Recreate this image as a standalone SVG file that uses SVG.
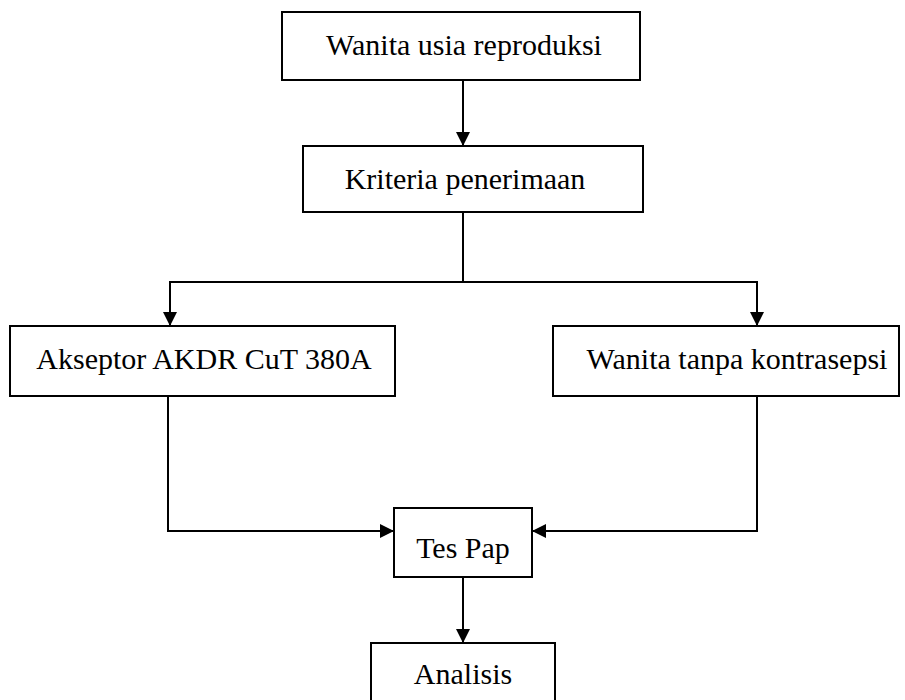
<svg xmlns="http://www.w3.org/2000/svg" width="905" height="700" viewBox="0 0 905 700">
<defs>
<style>
.box{fill:#fff;stroke:#000;stroke-width:2}
.lbl{font-family:"Liberation Serif","Times New Roman",serif;font-size:30px;fill:#000;text-anchor:middle}
.con{fill:none;stroke:#000;stroke-width:2}
</style>
<marker id="ah" viewBox="0 0 14 14" refX="14" refY="7" markerWidth="14" markerHeight="14" markerUnits="userSpaceOnUse" orient="auto">
<path d="M0,0 L14,7 L0,14 Z" fill="#000"/>
</marker>
</defs>
<rect width="905" height="700" fill="#fff"/>
<g id="connectors">
<line class="con" x1="463" y1="80" x2="463" y2="146" marker-end="url(#ah)"/>
<polyline class="con" points="463,212 463,282 170,282 170,326" marker-end="url(#ah)"/>
<polyline class="con" points="463,282 757,282 757,326" marker-end="url(#ah)"/>
<polyline class="con" points="168,396 168,531 394,531" marker-end="url(#ah)"/>
<polyline class="con" points="757,396 757,531 532,531" marker-end="url(#ah)"/>
<line class="con" x1="463" y1="577" x2="463" y2="643" marker-end="url(#ah)"/>
</g>
<g id="n1"><rect class="box" x="282" y="12" width="358" height="68"/><text class="lbl" x="464" y="55">Wanita usia reproduksi</text></g>
<g id="n2"><rect class="box" x="303" y="146" width="340" height="66"/><text class="lbl" x="465" y="189">Kriteria penerimaan</text></g>
<g id="n3"><rect class="box" x="10" y="326" width="385" height="70"/><text class="lbl" x="204" y="369">Akseptor AKDR CuT 380A</text></g>
<g id="n4"><rect class="box" x="553" y="326" width="346" height="70"/><text class="lbl" x="737" y="369">Wanita tanpa kontrasepsi</text></g>
<g id="n5"><rect class="box" x="394" y="508" width="138" height="69"/><text class="lbl" x="463" y="558">Tes Pap</text></g>
<g id="n6"><rect class="box" x="371" y="643" width="184" height="62"/><text class="lbl" x="463" y="684">Analisis</text></g>
</svg>
